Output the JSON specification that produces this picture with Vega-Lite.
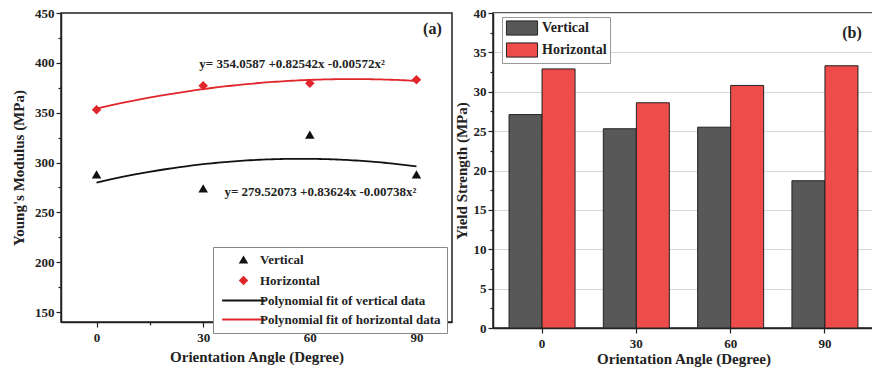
{
  "$schema": "https://vega.github.io/schema/vega-lite/v6.json",
  "padding": {"left": 10, "top": 6, "right": 0, "bottom": 0},
  "background": "white",
  "spacing": 0,
  "resolve": {"scale": {"color": "independent", "shape": "independent", "size": "independent"}, "legend": {"color": "independent", "shape": "independent", "size": "independent"}},
  "config": {
    "view": {"stroke": "#222", "strokeWidth": 1.5},
    "font": "Liberation Serif",
    "axis": {
      "labelFont": "Liberation Serif", "labelFontWeight": "bold", "labelFontSize": 13, "labelColor": "#222",
      "titleFont": "Liberation Serif", "titleFontWeight": "bold", "titleFontSize": 15, "titleColor": "#222",
      "domainColor": "#222", "domainWidth": 1.5, "tickColor": "#222", "tickSize": 5, "tickWidth": 1.2, "grid": false
    },
    "legend": {"labelFont": "Liberation Serif", "labelFontWeight": "bold", "labelColor": "#222", "labelLimit": 300}
  },
  "hconcat": [
    {
      "width": 391, "height": 309,
      "resolve": {"axis": {"x": "independent", "y": "independent"}},
      "layer": [
        {
          "data": {"values": [
            {"angle": 0, "modulus": 288, "series": "Vertical"},
            {"angle": 30, "modulus": 274, "series": "Vertical"},
            {"angle": 60, "modulus": 328, "series": "Vertical"},
            {"angle": 90, "modulus": 288, "series": "Vertical"},
            {"angle": 0, "modulus": 353, "series": "Horizontal"},
            {"angle": 30, "modulus": 377, "series": "Horizontal"},
            {"angle": 60, "modulus": 379.5, "series": "Horizontal"},
            {"angle": 90, "modulus": 383, "series": "Horizontal"}
          ]},
          "mark": {"type": "point", "filled": true, "opacity": 1},
          "encoding": {
            "x": {"field": "angle", "type": "quantitative", "scale": {"domain": [-10, 100], "nice": false},
                  "axis": {"orient": "bottom", "values": [0, 30, 60, 90], "title": "Orientation Angle (Degree)", "titlePadding": 5, "labelPadding": 4}},
            "y": {"field": "modulus", "type": "quantitative", "scale": {"domain": [140, 450], "nice": false, "zero": false},
                  "axis": {"orient": "left", "values": [150, 200, 250, 300, 350, 400, 450], "title": "Young's Modulus (MPa)", "titlePadding": 8}},
            "color": {"field": "series", "type": "nominal",
              "scale": {"domain": ["Vertical", "Horizontal", "Polynomial fit of vertical data", "Polynomial fit of horizontal data"],
                        "range": ["#111111", "#e0262b", "#111111", "#e0262b"]},
              "legend": {"title": null, "orient": "none", "legendX": 152, "legendY": 234, "strokeColor": "#888", "fillColor": "white",
                         "padding": 6, "labelFontSize": 13, "rowPadding": 5, "symbolOffset": 18, "labelOffset": 10, "symbolOpacity": 1}},
            "shape": {"field": "series", "type": "nominal",
              "scale": {"domain": ["Vertical", "Horizontal", "Polynomial fit of vertical data", "Polynomial fit of horizontal data"],
                        "range": ["triangle-up", "diamond", "M-4.5,-0.22H4.5V0.22H-4.5Z", "M-4.5,-0.22H4.5V0.22H-4.5Z"]},
              "legend": {"title": null, "orient": "none", "legendX": 152, "legendY": 234, "strokeColor": "#888", "fillColor": "white",
                         "padding": 6, "labelFontSize": 13, "rowPadding": 5, "symbolOffset": 18, "labelOffset": 10, "symbolOpacity": 1}},
            "size": {"field": "series", "type": "nominal",
              "scale": {"domain": ["Vertical", "Horizontal", "Polynomial fit of vertical data", "Polynomial fit of horizontal data"],
                        "range": [90, 90, 56, 56]},
              "legend": {"title": null, "orient": "none", "legendX": 152, "legendY": 234, "strokeColor": "#888", "fillColor": "white",
                         "padding": 6, "labelFontSize": 13, "rowPadding": 5, "symbolOffset": 18, "labelOffset": 10, "symbolOpacity": 1}}
          }
        },
        {
          "data": {"values": [
            {"angle": 0, "modulus": 288, "series": "Vertical"},
            {"angle": 30, "modulus": 274, "series": "Vertical"},
            {"angle": 60, "modulus": 328, "series": "Vertical"},
            {"angle": 90, "modulus": 288, "series": "Vertical"}
          ]},
          "transform": [{"regression": "modulus", "on": "angle", "method": "poly", "order": 2, "extent": [0, 90]}],
          "mark": {"type": "line", "color": "#111111", "strokeWidth": 1.8},
          "encoding": {
            "x": {"field": "angle", "type": "quantitative",
                  "axis": {"orient": "bottom", "values": [15, 45, 75], "labels": false, "domain": false, "title": null, "tickSize": 3}},
            "y": {"field": "modulus", "type": "quantitative",
                  "axis": {"orient": "left", "values": [175, 225, 275, 325, 375, 425], "labels": false, "domain": false, "title": null, "tickSize": 3}}
          }
        },
        {
          "data": {"values": [
            {"angle": 0, "modulus": 353, "series": "Horizontal"},
            {"angle": 30, "modulus": 377, "series": "Horizontal"},
            {"angle": 60, "modulus": 379.5, "series": "Horizontal"},
            {"angle": 90, "modulus": 383, "series": "Horizontal"}
          ]},
          "transform": [{"regression": "modulus", "on": "angle", "method": "poly", "order": 2, "extent": [0, 90]}],
          "mark": {"type": "line", "color": "#e0262b", "strokeWidth": 1.8},
          "encoding": {
            "x": {"field": "angle", "type": "quantitative", "axis": null},
            "y": {"field": "modulus", "type": "quantitative", "axis": null}
          }
        },
        {
          "data": {"values": [
            {"angle": 55, "modulus": 399, "label": "y= 354.0587 +0.82542x -0.00572x²", "fs": 13},
            {"angle": 63, "modulus": 270, "label": "y= 279.52073 +0.83624x -0.00738x²", "fs": 13},
            {"angle": 94.5, "modulus": 434, "label": "(a)", "fs": 16}
          ]},
          "mark": {"type": "text", "font": "Liberation Serif", "fontWeight": "bold", "color": "#222"},
          "encoding": {
            "x": {"field": "angle", "type": "quantitative", "axis": null},
            "y": {"field": "modulus", "type": "quantitative", "axis": null},
            "text": {"field": "label"},
            "size": {"field": "fs", "type": "quantitative", "scale": null, "legend": null}
          }
        }
      ]
    },
    {
      "width": 381, "height": 315,
      "resolve": {"axis": {"y": "independent"}},
      "layer": [
        {
          "data": {"values": [
            {"angle": 0, "orientation": "Vertical", "strength": 27.1},
            {"angle": 0, "orientation": "Horizontal", "strength": 32.9},
            {"angle": 30, "orientation": "Vertical", "strength": 25.3},
            {"angle": 30, "orientation": "Horizontal", "strength": 28.6},
            {"angle": 60, "orientation": "Vertical", "strength": 25.5},
            {"angle": 60, "orientation": "Horizontal", "strength": 30.8},
            {"angle": 90, "orientation": "Vertical", "strength": 18.7},
            {"angle": 90, "orientation": "Horizontal", "strength": 33.3}
          ]},
          "mark": {"type": "bar", "stroke": "#222", "strokeWidth": 1},
          "encoding": {
            "x": {"field": "angle", "type": "ordinal", "scale": {"paddingInner": 0.3, "paddingOuter": 0.17},
                  "axis": {"labelAngle": 0, "title": "Orientation Angle (Degree)", "titlePadding": 1, "labelPadding": 4}},
            "xOffset": {"field": "orientation", "type": "nominal", "sort": ["Vertical", "Horizontal"]},
            "y": {"field": "strength", "type": "quantitative", "scale": {"domain": [0, 40], "nice": false},
                  "axis": {"orient": "left", "values": [0, 5, 10, 15, 20, 25, 30, 35, 40], "title": "Yield Strength (MPa)", "grid": true, "gridColor": "#d8d8d8", "titlePadding": 4}},
            "color": {"field": "orientation", "type": "nominal",
              "scale": {"domain": ["Vertical", "Horizontal"], "range": ["#585858", "#ee4b4b"]},
              "legend": {"title": null, "orient": "none", "legendX": 9, "legendY": 4, "strokeColor": "#999", "fillColor": "white", "padding": 3,
                         "symbolType": "M-2.2,-1H2.2V1H-2.2Z", "symbolSize": 200, "symbolStrokeColor": "#222", "symbolStrokeWidth": 1,
                         "symbolOffset": 9, "labelFontSize": 14, "rowPadding": 2, "labelOffset": 12}}
          }
        },
        {
          "data": {"values": [{"angle": 90, "strength": 37.5, "label": "(b)"}]},
          "mark": {"type": "text", "font": "Liberation Serif", "fontWeight": "bold", "fontSize": 16, "color": "#222", "dx": 27},
          "encoding": {
            "x": {"field": "angle", "type": "ordinal", "axis": {"labelAngle": 0, "title": "Orientation Angle (Degree)", "titlePadding": 1, "labelPadding": 4}},
            "y": {"field": "strength", "type": "quantitative",
                  "axis": {"orient": "left", "values": [2.5, 7.5, 12.5, 17.5, 22.5, 27.5, 32.5, 37.5], "labels": false, "domain": false, "title": null, "tickSize": 3}},
            "text": {"field": "label"}
          }
        }
      ]
    }
  ]
}
